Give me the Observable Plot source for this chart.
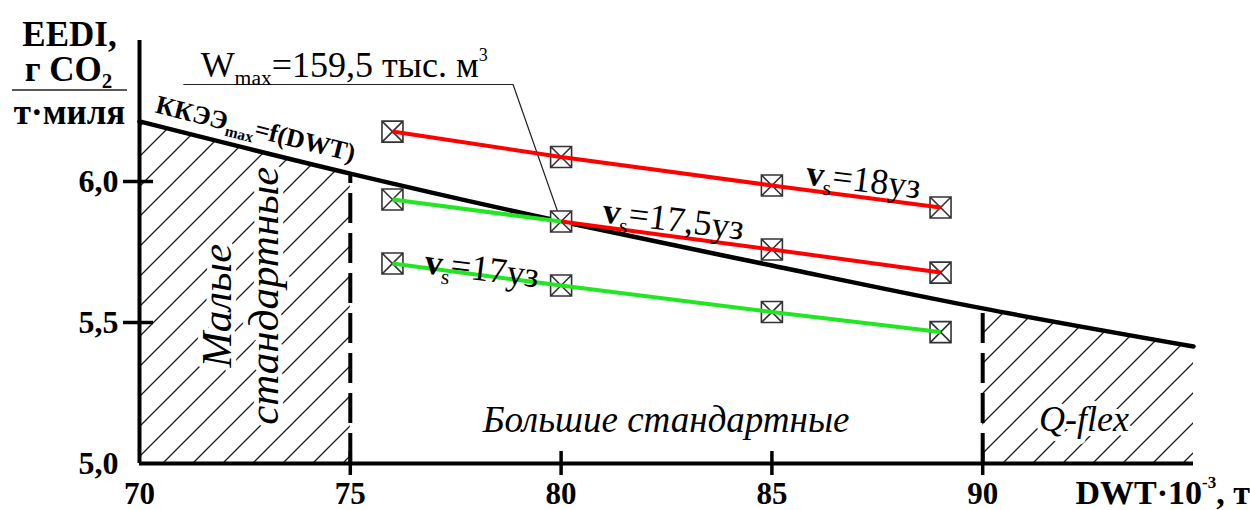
<!DOCTYPE html>
<html><head><meta charset="utf-8">
<script src="https://cdn.jsdelivr.net/npm/d3@7"></script>
<script src="https://cdn.jsdelivr.net/npm/@observablehq/plot@0.6"></script>
<style>
body{margin:0;background:#fff;}
#chart svg text, #chart svg tspan { font-family: "Liberation Serif", "DejaVu Serif", serif !important; }
</style>
</head><body><div id="chart"></div>
<script>
// ---- data ----
const xTicks = [70, 75, 80, 85, 90];
const yTicks = [5.0, 5.5, 6.0];
const dwt = [76, 80, 85, 89];
const eedi18 = [6.177, 6.087, 5.986, 5.908];
const eedi175 = [5.936, 5.858, 5.759, 5.677];
const eedi17 = [5.709, 5.631, 5.537, 5.466];
const speedNames = ["18", "17,5", "17"];
const limitDwt = [70, 75, 80, 85, 90, 95];
const limitEedi = [6.213, 6.028, 5.858, 5.702, 5.55, 5.415];
const classBounds = [75, 90];
const leaderX = [71.05, 78.86, 80];
const leaderY = [6.344, 6.344, 5.858];

const lineLabels = [
  {text: "*{v}_{s}=18уз", x: 87.17, y: 6.005, rotate: 7},
  {text: "*{v}_{s}=17,5уз", x: 82.66, y: 5.865, rotate: 7},
  {text: "*{v}_{s}=17уз", x: 78.12, y: 5.69, rotate: 7}
];
const zoneLabels = [
  {text: "Малые", x: 71.85, y: 5.56, rotate: -90},
  {text: "стандартные", x: 72.97, y: 5.595, rotate: -90}
];
const bottomLabels = [
  {text: "Большие стандартные", x: 82.49, y: 5.11, size: 37},
  {text: "Q-flex", x: 92.4, y: 5.117, size: 36}
];

// ---- derived ----
const limitAt = d3.scaleLinear().domain(limitDwt).range(limitEedi);
const limitPts = limitDwt.map((x, i) => ({x, y: limitEedi[i]}));
const hatchLeft = limitPts.filter(d => d.x <= 75);
const hatchRight = limitPts.filter(d => d.x >= 90);
const seriesVals = [eedi18, eedi175, eedi17];
const segments = [];
seriesVals.forEach((vals, s) => {
  for (let i = 0; i < dwt.length - 1; i++) {
    const over = Math.max(vals[i] - limitAt(dwt[i]), vals[i + 1] - limitAt(dwt[i + 1])) > 0.005;
    segments.push({s: speedNames[s], x1: dwt[i], y1: vals[i], x2: dwt[i + 1], y2: vals[i + 1], color: over ? "#ff0000" : "#22e622"});
  }
});
const points = seriesVals.flatMap((vals, s) => dwt.map((x, i) => ({s: speedNames[s], x, y: vals[i]})));
const leader = leaderX.map((x, i) => ({x, y: leaderY[i]}));

const boxX = {
  draw(ctx, size) {
    const r = Math.sqrt(size / Math.PI);
    ctx.moveTo(-r, -r); ctx.lineTo(r, -r); ctx.lineTo(r, r); ctx.lineTo(-r, r); ctx.closePath();
    ctx.moveTo(-r, -r); ctx.lineTo(r, r);
    ctx.moveTo(r, -r); ctx.lineTo(-r, r);
  }
};

const serif = "Liberation Serif";
const comma = d => d.toFixed(1).replace(".", ",");

const svg = Plot.plot({
  width: 1250, height: 510,
  marginLeft: 139, marginRight: 57, marginTop: 40, marginBottom: 47,
  x: {domain: [70, 95], label: null},
  y: {domain: [5, 6.5], label: null},
  style: {fontFamily: serif, background: "white", color: "black", overflow: "visible"},
  marks: [
    Plot.areaY(hatchLeft, {x: "x", y1: 5, y2: "y", fill: "black", className: "hatch"}),
    Plot.areaY(hatchRight, {x: "x", y1: 5, y2: "y", fill: "black", className: "hatch"}),
    Plot.ruleX(classBounds, {x: d => d, y1: 5, y2: d => limitAt(d), stroke: "black", strokeWidth: 4, strokeDasharray: "30,10"}),
    Plot.line(limitPts, {x: "x", y: "y", stroke: "black", strokeWidth: 4.5, curve: "monotone-x"}),
    Plot.ruleX([70], {y1: 5, y2: 6.5, stroke: "black", strokeWidth: 4}),
    Plot.ruleY([5], {x1: 70, x2: 95, stroke: "black", strokeWidth: 4}),
    Plot.axisX({ticks: xTicks.slice(1), tickSize: 24, dy: -12, tickFormat: () => "", strokeWidth: 3.5}),
    Plot.axisX({ticks: xTicks, tickSize: 0, tickPadding: 18, fontSize: 31, fontWeight: "bold"}),
    Plot.axisY({ticks: yTicks.slice(1), tickSize: 30, dx: 14, tickFormat: () => "", strokeWidth: 3.5}),
    Plot.axisY({ticks: yTicks, tickSize: 0, tickPadding: 21, tickFormat: comma, fontSize: 32, fontWeight: "bold"}),
    Plot.line(leader, {x: "x", y: "y", stroke: "#222", strokeWidth: 1.2}),
    Plot.dot(points, {x: "x", y: "y", r: 10.5, symbol: boxX, fill: "white", stroke: "#333", strokeWidth: 1.6}),
    Plot.link(segments, {x1: "x1", y1: "y1", x2: "x2", y2: "y2", stroke: "color", strokeWidth: 4}),
    Plot.text(lineLabels, {x: "x", y: "y", text: "text", rotate: "rotate", fontSize: 36, className: "rich", lineAnchor: "middle"}),
    Plot.text(zoneLabels, {x: "x", y: "y", text: "text", rotate: -90, fontSize: 43, fontStyle: "italic", stroke: "white", strokeWidth: 10, fill: "black", lineAnchor: "middle"}),
    Plot.text(bottomLabels, {x: "x", y: "y", text: "text", fontSize: d => d.size, fontStyle: "italic", stroke: "white", strokeWidth: 10, fill: "black", lineAnchor: "bottom"}),
    Plot.text(["ККЭЭ_{max}=f(DWT)"], {x: 72.755, y: 6.186, text: d => d, rotate: 14, fontSize: 26, fontWeight: "bold", className: "rich", lineAnchor: "middle", stroke: "white", strokeWidth: 4, fill: "black"}),
    Plot.text(["W_{max}=159,5 тыс. м^{3}"], {x: 71.45, y: 6.369, text: d => d, fontSize: 36, textAnchor: "start", lineAnchor: "bottom", className: "rich"}),
    Plot.text(["EEDI,"], {frameAnchor: "top-left", dx: -70, dy: 5, fontSize: 35, fontWeight: "bold", textAnchor: "middle", lineAnchor: "bottom"}),
    Plot.text(["г CO_{2}"], {frameAnchor: "top-left", dx: -71, dy: 40, fontSize: 35, fontWeight: "bold", textAnchor: "middle", lineAnchor: "bottom", className: "rich"}),
    Plot.text(["т·миля"], {frameAnchor: "top-left", dx: -70, dy: 83, fontSize: 35, fontWeight: "bold", textAnchor: "middle", lineAnchor: "bottom"}),
    Plot.text(["DWT·10^{-3}, т"], {frameAnchor: "bottom-right", dx: -118, dy: 40, fontSize: 34, fontWeight: "bold", textAnchor: "start", lineAnchor: "bottom", className: "rich"})
  ]
});

// hatch pattern
const root = d3.select(svg);
const defs = root.insert("defs", ":first-child");
const pat = defs.append("pattern").attr("id", "hatch45").attr("patternUnits", "userSpaceOnUse")
  .attr("width", 30).attr("height", 30).attr("x", 26).attr("y", 0);
pat.append("path").attr("d", "M0,30L30,0M-7.5,7.5L7.5,-7.5M22.5,37.5L37.5,22.5")
  .attr("stroke", "#1a1a1a").attr("stroke-width", 1.3).attr("fill", "none");
root.selectAll("g.hatch path").attr("fill", "url(#hatch45)");

// fraction line of the y title
root.append("line").attr("x1", 12).attr("x2", 127).attr("y1", 90).attr("y2", 90)
  .attr("stroke", "#222").attr("stroke-width", 1.5);

// rich text: *{bold} _{sub} ^{sup}
root.selectAll("g.rich text").each(function () {
  const src = this.textContent;
  const el = d3.select(this);
  el.text(null);
  const re = /([_^*])\{([^}]*)\}/g;
  let last = 0, m, shift = 0;
  const add = (txt, kind) => {
    if (!txt) return;
    const t = el.append("tspan").text(txt);
    if (kind === "_" || kind === "^") {
      const target = kind === "_" ? 0.22 : -0.45;
      const sz = kind === "_" ? 0.6 : 0.5;
      t.attr("font-size", (sz * 100) + "%").attr("dy", ((target - shift) / sz).toFixed(3) + "em");
      shift = target;
    } else {
      if (shift !== 0) t.attr("dy", (-shift).toFixed(3) + "em");
      shift = 0;
      if (kind === "*") t.attr("font-weight", "bold");
    }
  };
  while ((m = re.exec(src))) {
    add(src.slice(last, m.index), "");
    add(m[2], m[1]);
    last = re.lastIndex;
  }
  add(src.slice(last), "");
});

document.getElementById("chart").appendChild(svg);
</script></body></html>
